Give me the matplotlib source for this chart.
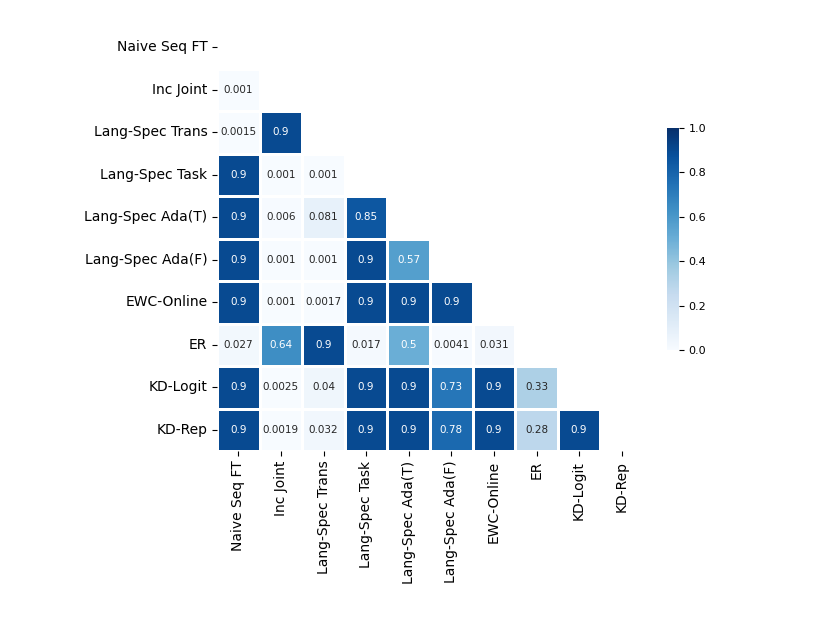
import numpy as np
import pandas as pd
import matplotlib
matplotlib.use("Agg")
import matplotlib.pyplot as plt
import seaborn as sns

methods = ["Naive Seq FT", "Inc Joint", "Lang-Spec Trans", "Lang-Spec Task",
           "Lang-Spec Ada(T)", "Lang-Spec Ada(F)", "EWC-Online", "ER",
           "KD-Logit", "KD-Rep"]

# lower triangle, row by row (p-values between methods)
row_inc_joint = [0.001]
row_trans = [0.0015, 0.9]
row_task = [0.9, 0.001, 0.001]
row_ada_t = [0.9, 0.006, 0.081, 0.85]
row_ada_f = [0.9, 0.001, 0.001, 0.9, 0.57]
row_ewc = [0.9, 0.001, 0.0017, 0.9, 0.9, 0.9]
row_er = [0.027, 0.64, 0.9, 0.017, 0.5, 0.0041, 0.031]
row_kd_logit = [0.9, 0.0025, 0.04, 0.9, 0.9, 0.73, 0.9, 0.33]
row_kd_rep = [0.9, 0.0019, 0.032, 0.9, 0.9, 0.78, 0.9, 0.28, 0.9]

rows = [[], row_inc_joint, row_trans, row_task, row_ada_t, row_ada_f,
        row_ewc, row_er, row_kd_logit, row_kd_rep]

n = len(methods)
mat = np.full((n, n), np.nan)
for i, r in enumerate(rows):
    mat[i, :len(r)] = r
df = pd.DataFrame(mat, index=methods, columns=methods)

mask = np.triu(np.ones((n, n), dtype=bool))

fig = plt.figure(figsize=(8.3, 6.42), dpi=100)
W, H = 830, 642
ax = fig.add_axes([217 / W, 1 - 451 / H, 426 / W, 425 / H])
cax = fig.add_axes([667 / W, 1 - 350 / H, 12 / W, 222 / H])

sns.heatmap(df, mask=mask, cmap="Blues", vmin=0, vmax=1, annot=True,
            annot_kws={"size": 7.5}, fmt=".2g", linewidths=2,
            linecolor="white", ax=ax, cbar_ax=cax)

ax.tick_params(axis="both", labelsize=10)
plt.setp(ax.get_xticklabels(), rotation=90)
plt.setp(ax.get_yticklabels(), rotation=0)
cax.tick_params(labelsize=8)
cax.set_yticks([0.0, 0.2, 0.4, 0.6, 0.8, 1.0])

fig.savefig("out.png", dpi=100)
